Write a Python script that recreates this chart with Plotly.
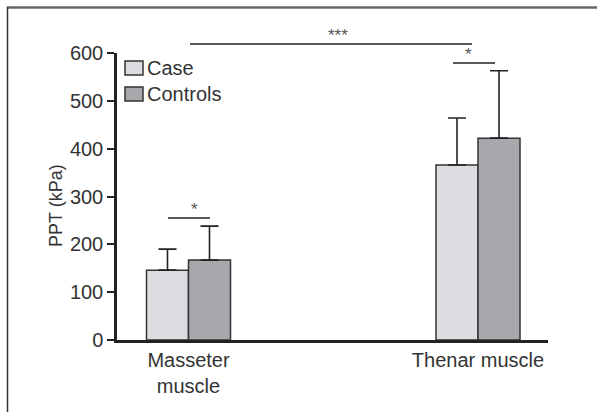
import plotly.graph_objects as go

categories = ["Masseter<br>muscle", "Thenar muscle"]
series_names = ["Case", "Controls"]
case_vals = [146, 366]
case_err = [44, 98]
ctrl_vals = [167, 422]
ctrl_err = [71, 141]
yticks = [0, 100, 200, 300, 400, 500, 600]
case_color = "#dcdde0"
ctrl_color = "#a7a8ac"

W, H = 597, 412
L, R, T, B = 117, 49, 53, 72
x0_px, x1_px = 188.5, 478.0
ppu = x1_px - x0_px
xr = [(L - x0_px) / ppu, ((W - R) - x0_px) / ppu]
bw = 42 / ppu
xs = [0, 1]

fig = go.Figure()
fig.add_trace(go.Bar(
    x=xs, y=case_vals, name=series_names[0], width=bw, offset=-bw, showlegend=False,
    marker=dict(color=case_color, line=dict(color="#333333", width=1.5)),
    error_y=dict(type="data", symmetric=False, array=case_err, arrayminus=[0, 0],
                 color="#222222", thickness=1.6, width=9),
))
fig.add_trace(go.Bar(
    x=xs, y=ctrl_vals, name=series_names[1], width=bw, offset=0, showlegend=False,
    marker=dict(color=ctrl_color, line=dict(color="#333333", width=1.5)),
    error_y=dict(type="data", symmetric=False, array=ctrl_err, arrayminus=[0, 0],
                 color="#222222", thickness=1.6, width=9),
))


def pxp(p):
    return (p - L) / (W - L - R)


def pyp(p):
    return (340 - p) / 287


sig = [
    (190, 472, 44, "***", 338),
    (168, 210, 218, "*", 189),
    (453, 495, 63, "*", 474),
]
for xa, xb, yp, lab, xc in sig:
    fig.add_shape(type="line", xref="paper", yref="paper",
                  x0=pxp(xa), x1=pxp(xb), y0=pyp(yp), y1=pyp(yp),
                  line=dict(color="#222222", width=1.3))
    fig.add_annotation(xref="paper", yref="paper", x=pxp(xc), y=pyp(yp), text=lab,
                       showarrow=False, yanchor="bottom", yshift=-3,
                       font=dict(size=17, color="#555555", family="Arial"))

# legend (manual, tight box + label)
legend_rows = [(61, 75, case_color), (87, 101, ctrl_color)]
for (ya, yb, col), name in zip(legend_rows, series_names):
    fig.add_shape(type="rect", xref="paper", yref="paper",
                  x0=pxp(125), x1=pxp(143), y0=pyp(yb), y1=pyp(ya),
                  fillcolor=col, line=dict(color="#333333", width=1.5))
    fig.add_annotation(xref="paper", yref="paper", x=pxp(145), y=pyp((ya + yb) / 2),
                       text=name, showarrow=False, xanchor="left", yanchor="middle",
                       font=dict(size=20, color="#333333", family="Arial"))

# frame lines
fig.add_shape(type="line", xref="paper", yref="paper", x0=pxp(7), x1=pxp(597),
              y0=pyp(7.5), y1=pyp(7.5), line=dict(color="#666666", width=2.5))
fig.add_shape(type="line", xref="paper", yref="paper", x0=pxp(7.5), x1=pxp(7.5),
              y0=pyp(7), y1=pyp(412), line=dict(color="#333333", width=1.5))

fig.add_annotation(xref="paper", yref="paper", x=pxp(44), y=pyp(206),
                   text="PPT (kPa)", textangle=-90, showarrow=False,
                   font=dict(size=18, color="#333333", family="Arial"))

fig.update_layout(
    width=W, height=H,
    margin=dict(l=L, r=R, t=T, b=B),
    paper_bgcolor="white", plot_bgcolor="white",
    barmode="overlay",
    font=dict(family="Arial", size=20, color="#333333"),
    xaxis=dict(range=xr, tickmode="array", tickvals=xs, ticktext=categories,
               showline=True, linecolor="#222222", linewidth=2.5, ticks="",
               showgrid=False, zeroline=False, tickfont=dict(size=20)),
    yaxis=dict(range=[0, 600], tickmode="array", tickvals=yticks,
               showline=True, linecolor="#222222", linewidth=2.5,
               ticks="outside", ticklen=7, tickwidth=2, tickcolor="#222222",
               showgrid=False, zeroline=False, tickfont=dict(size=20)),
    showlegend=False,
)
fig.write_html("out.html", config={"displayModeBar": False},
               post_script="document.body.style.margin='0';")
